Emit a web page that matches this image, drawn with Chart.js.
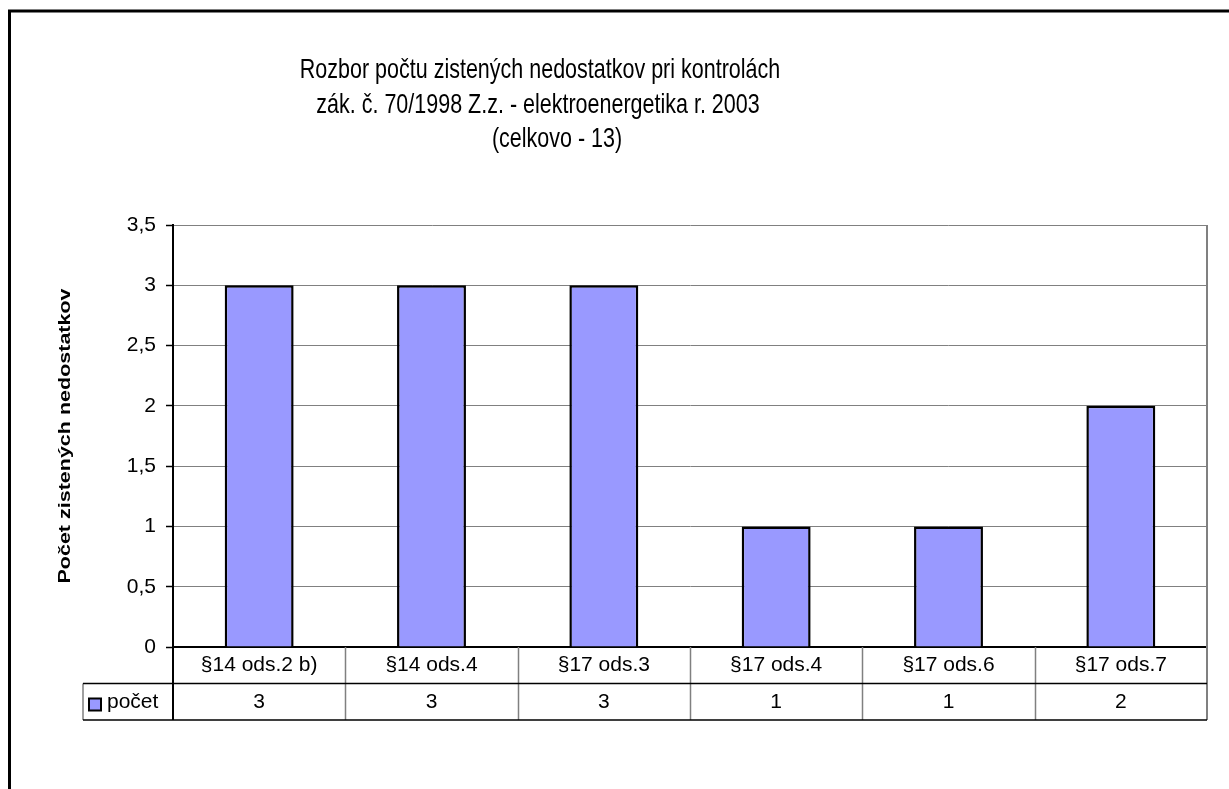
<!DOCTYPE html>
<html>
<head>
<meta charset="utf-8">
<script src="https://cdn.jsdelivr.net/npm/chart.js@4"></script>
<style>
    body { margin: 0; background: #fff; }
    canvas { display: block; }
</style>
</head>
<body>
<canvas id="chart" width="1229" height="789"></canvas>
<script>
    const categories = ["§14 ods.2 b)", "§14 ods.4", "§17 ods.3", "§17 ods.4", "§17 ods.6", "§17 ods.7"];
    const pocet = [3, 3, 3, 1, 1, 2];
    const seriesName = "počet";
    const titleLines = [
        "Rozbor počtu zistených nedostatkov pri kontrolách",
        "zák. č. 70/1998 Z.z. - elektroenergetika r. 2003",
        "(celkovo - 13)"
    ];
    const yAxisTitle = "Počet zistených nedostatkov";
    const yMin = 0;
    const yMax = 3.5;
    const yStep = 0.5;

    const FONT = "'Liberation Sans', Arial, sans-serif";
    const BAR_COLOR = "#9999FF";

    // frame, titles and the data table under the plot (Excel style)
    const excelLook = {
        id: "excelLook",
        beforeDraw(chart) {
            const ctx = chart.ctx;
            ctx.save();
            ctx.fillStyle = "#fff";
            ctx.fillRect(0, 0, chart.width, chart.height);
            ctx.strokeStyle = "#000";
            ctx.lineWidth = 3;
            ctx.strokeRect(9.5, 11, chart.width + 20, chart.height + 20);
            ctx.restore();
        },
        afterDraw(chart) {
            const ctx = chart.ctx;
            const area = chart.chartArea;
            const x = chart.scales.x;
            const half = (area.right - area.left) / categories.length / 2;
            const row1 = area.bottom + 36.5;
            const row2 = row1 + 36.5;
            const legendLeft = 83;

            ctx.save();

            // title
            ctx.fillStyle = "#000";
            ctx.textAlign = "center";
            ctx.textBaseline = "alphabetic";
            ctx.font = "21.5px " + FONT;
            const shift = [0, -2, 17];
            titleLines.forEach((line, i) => {
                ctx.save();
                ctx.translate(540 + shift[i], 78 + i * 34.5);
                ctx.scale(1, 1.3);
                ctx.fillText(line, 0, 0);
                ctx.restore();
            });

            // y axis title
            ctx.save();
            ctx.translate(69.5, (area.top + area.bottom) / 2);
            ctx.rotate(-Math.PI / 2);
            ctx.scale(1, 0.8);
            ctx.font = "bold 21.5px " + FONT;
            ctx.fillText(yAxisTitle, 0, 0);
            ctx.restore();

            // right border of plot + table
            ctx.strokeStyle = "#808080";
            ctx.lineWidth = 2;
            ctx.beginPath();
            ctx.moveTo(area.right, area.top);
            ctx.lineTo(area.right, row2);
            ctx.stroke();

            // vertical table separators
            ctx.lineWidth = 1.5;
            ctx.beginPath();
            for (let i = 1; i < categories.length; i++) {
                const bx = Math.round(x.getPixelForValue(i) - half) + 0.5;
                ctx.moveTo(bx, area.bottom);
                ctx.lineTo(bx, row2);
            }
            ctx.moveTo(legendLeft, row1);
            ctx.lineTo(legendLeft, row2);
            ctx.stroke();

            // axis line continues through the table
            ctx.strokeStyle = "#000";
            ctx.lineWidth = 2;
            ctx.beginPath();
            ctx.moveTo(area.left, area.bottom);
            ctx.lineTo(area.left, row2);
            ctx.stroke();

            ctx.lineWidth = 1.5;
            ctx.beginPath();
            ctx.moveTo(legendLeft, row1);
            ctx.lineTo(area.right, row1);
            ctx.moveTo(legendLeft, row2);
            ctx.lineTo(area.right, row2);
            ctx.stroke();

            // table text
            ctx.fillStyle = "#000";
            ctx.font = "21px " + FONT;
            ctx.textAlign = "center";
            ctx.textBaseline = "middle";
            categories.forEach((cat, i) => {
                const cx = x.getPixelForValue(i);
                ctx.fillText(cat, cx, area.bottom + 18.5);
                ctx.fillText(String(pocet[i]).replace(".", ","), cx, row1 + 19);
            });

            // legend key
            ctx.fillStyle = BAR_COLOR;
            ctx.fillRect(89, row1 + 15, 12, 12);
            ctx.strokeStyle = "#000";
            ctx.lineWidth = 2;
            ctx.strokeRect(89, row1 + 15, 12, 12);
            ctx.fillStyle = "#000";
            ctx.textAlign = "left";
            ctx.fillText(seriesName, 107, row1 + 19);

            ctx.restore();
        }
    };

    new Chart(document.getElementById("chart"), {
        type: "bar",
        data: {
            labels: categories,
            datasets: [
                {
                    label: seriesName,
                    data: pocet,
                    backgroundColor: BAR_COLOR,
                    borderColor: "#000",
                    borderWidth: 2.5,
                    barPercentage: 0.4,
                    categoryPercentage: 1
                }
            ]
        },
        options: {
            responsive: false,
            animation: false,
            devicePixelRatio: 1,
            layout: { padding: { top: 225, right: 22, bottom: 0, left: 0 } },
            plugins: {
                legend: { display: false },
                title: { display: false },
                tooltip: { enabled: false }
            },
            scales: {
                x: {
                    offset: true,
                    grid: { display: false },
                    border: { color: "#000", width: 2 },
                    ticks: { display: false },
                    afterFit: scale => { scale.height = 142; }
                },
                y: {
                    min: yMin,
                    max: yMax,
                    ticks: {
                        stepSize: yStep,
                        color: "#000",
                        padding: 10,
                        font: { family: FONT, size: 21 },
                        callback: value => String(value).replace(".", ",")
                    },
                    grid: {
                        color: "#808080",
                        lineWidth: 1,
                        tickLength: 7,
                        tickColor: "#000",
                        tickWidth: 1.5
                    },
                    border: { color: "#000", width: 2 },
                    afterFit: scale => { scale.width = 173; }
                }
            }
        },
        plugins: [excelLook]
    });
</script>
</body>
</html>
